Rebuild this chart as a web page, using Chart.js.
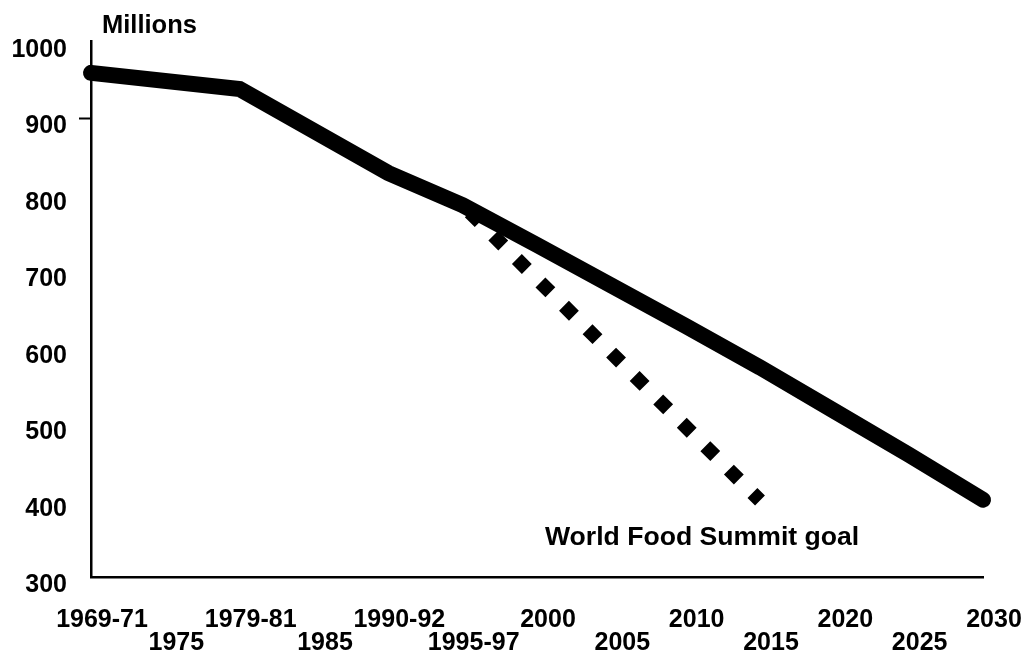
<!DOCTYPE html>
<html>
<head>
<meta charset="utf-8">
<style>
  html, body { margin: 0; padding: 0; background: #fff; }
  #wrap { width: 1026px; height: 653px; }
  canvas { display: block; background: #fff; }
</style>
<script src="https://cdn.jsdelivr.net/npm/chart.js@4.4.1/dist/chart.umd.min.js"></script>
</head>
<body>
<div id="wrap"><canvas id="c" width="1026" height="653"></canvas></div>
<script>
// ---- data ----
const categories = ['1969-71', '1975', '1979-81', '1985', '1990-92', '1995-97',
                    '2000', '2005', '2010', '2015', '2020', '2025', '2030'];
const undernourished = [959, null, 938, null, 828, 786, 734, 681, 628, 574, 517, 460, 401];
const summitGoal     = [null, null, null, null, null, 786, null, null, null, 400, null, null, null];
const yMin = 300;
const yMax = 1000;
const yStep = 100;
const unitLabel = 'Millions';
const goalLabel = 'World Food Summit goal';

// ---- styling ----
const FONT = '"Liberation Sans", Arial, Helvetica, sans-serif';

const textPlugin = {
  id: 'texts',
  afterDraw(chart) {
    const ctx = chart.ctx;
    const area = chart.chartArea;
    const xs = chart.scales.x, ys = chart.scales.y;
    ctx.save();
    ctx.fillStyle = '#000';
    ctx.textAlign = 'left';
    ctx.textBaseline = 'alphabetic';
    ctx.font = 'bold 25.5px ' + FONT;
    ctx.fillText(unitLabel, area.left + 11, area.top - 9);
    ctx.font = 'bold 26.6px ' + FONT;
    const gx = xs.getPixelForValue(9) - 215;
    const gy = ys.getPixelForValue(yMin) - 32;
    ctx.fillText(goalLabel, gx, gy);
    ctx.restore();
  }
};

new Chart(document.getElementById('c'), {
  type: 'line',
  data: {
    labels: categories,
    datasets: [
      {
        label: 'Undernourished',
        data: undernourished,
        borderColor: '#000',
        borderWidth: 16,
        borderCapStyle: 'round',
        borderJoinStyle: 'miter',
        pointRadius: 0,
        tension: 0,
        spanGaps: true,
        fill: false,
        clip: false,
        order: 0
      },
      {
        label: goalLabel,
        data: summitGoal,
        borderColor: '#000',
        borderWidth: 14,
        borderCapStyle: 'butt',
        borderDash: [14, 19.2],
        borderDashOffset: 23.2,
        pointRadius: 0,
        tension: 0,
        spanGaps: true,
        fill: false,
        clip: false,
        order: 1
      }
    ]
  },
  options: {
    responsive: false,
    animation: false,
    devicePixelRatio: 1,
    layout: { padding: { left: 0, top: 41.5, right: 43, bottom: 0 } },
    plugins: {
      legend: { display: false },
      title: { display: false },
      tooltip: { enabled: false }
    },
    scales: {
      x: {
        type: 'category',
        offset: false,
        grid: { display: false, drawTicks: false },
        border: { display: true, color: '#000', width: 2.5 },
        ticks: {
          autoSkip: false,
          maxRotation: 0,
          minRotation: 0,
          padding: 31.5,
          color: '#000',
          font: { family: FONT, size: 25, weight: 'bold', lineHeight: 0.92 },
          labelOffset: 11,
          callback: function (value, index) {
            const lab = this.getLabelForValue(value);
            return index % 2 === 0 ? [lab] : ['', lab];
          }
        },
        afterFit: (scale) => {
          scale.height = 76;
          scale.paddingLeft = 0;
          scale.paddingRight = 0;
        }
      },
      y: {
        min: yMin,
        max: yMax,
        grid: {
          drawOnChartArea: false,
          drawTicks: true,
          tickLength: 12,
          tickWidth: 2,
          tickColor: (ctx) => (ctx.tick && ctx.tick.value === 900 ? '#000' : 'rgba(0,0,0,0)')
        },
        border: { display: true, color: '#000', width: 2.5 },
        ticks: {
          stepSize: yStep,
          padding: 12,
          labelOffset: 8.5,
          color: '#000',
          font: { family: FONT, size: 25, weight: 'bold' },
          callback: (value) => String(value)
        },
        afterFit: (scale) => {
          scale.width = 91;
          scale.paddingTop = 0;
          scale.paddingBottom = 0;
        }
      }
    }
  },
  plugins: [textPlugin]
});
</script>
</body>
</html>
